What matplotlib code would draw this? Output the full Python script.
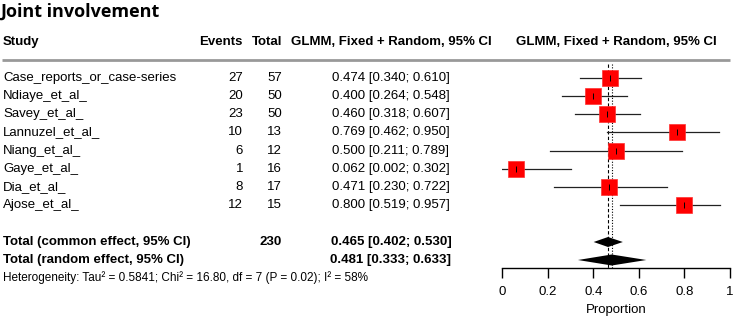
import matplotlib.pyplot as plt

plt.rcParams['font.family'] = ['Liberation Sans', 'DejaVu Sans']

# study data
studies = ["Case_reports_or_case-series", "Ndiaye_et_al_", "Savey_et_al_", "Lannuzel_et_al_",
           "Niang_et_al_", "Gaye_et_al_", "Dia_et_al_", "Ajose_et_al_"]
events = [27, 20, 23, 10, 6, 1, 8, 12]
totals = [57, 50, 50, 13, 12, 16, 17, 15]
prop = [0.474, 0.400, 0.460, 0.769, 0.500, 0.062, 0.471, 0.800]
lower = [0.340, 0.264, 0.318, 0.462, 0.211, 0.002, 0.230, 0.519]
upper = [0.610, 0.548, 0.607, 0.950, 0.789, 0.302, 0.722, 0.957]

# pooled estimates (est, lower, upper)
common = [0.465, 0.402, 0.530]
random_eff = [0.481, 0.333, 0.633]
n_total = 230
het_text = "Heterogeneity: Tau² = 0.5841; Chi² = 16.80, df = 7 (P = 0.02); I² = 58%"

ticks = [0, 0.2, 0.4, 0.6, 0.8, 1]
tick_labels = ["0", "0.2", "0.4", "0.6", "0.8", "1"]

W, H = 750, 323
fig = plt.figure(figsize=(W / 100, H / 100), dpi=100)

# background axes in pixel coords for the table text
bg = fig.add_axes([0, 0, 1, 1])
bg.set_xlim(0, W)
bg.set_ylim(H, 0)
bg.axis('off')

# forest axes, sharing the same vertical pixel scale
x0, x1, ytop, ybot = 502, 730, 62, 268
ax = fig.add_axes([x0 / W, (H - ybot) / H, (x1 - x0) / W, (ybot - ytop) / H])
ax.set_xlim(0, 1)
ax.set_ylim(ybot, ytop)
ax.patch.set_visible(False)
for s in ['top', 'right', 'left']:
    ax.spines[s].set_visible(False)
ax.spines['bottom'].set_linewidth(1.0)
ax.set_yticks([])
ax.set_xticks(ticks, labels=tick_labels)
ax.tick_params(axis='x', length=7, width=1, pad=6, labelsize=9.5)

fs = 9.5
row_y = [78 + 18.15 * i for i in range(len(studies))]
y_common, y_random, y_het = 242, 260, 278
col_events, col_total, col_eff, col_plot = 243, 282, 391, 616

# title and headers
bg.text(0, 12, "Joint involvement", fontsize=13, fontweight='bold', family='Open Sans',
        ha='left', va='center')
bg.text(3, 42, "Study", fontsize=fs, fontweight='bold', va='center')
bg.text(col_events, 42, "Events", fontsize=fs, fontweight='bold', ha='right', va='center')
bg.text(col_total, 42, "Total", fontsize=fs, fontweight='bold', ha='right', va='center')
bg.text(col_eff, 42, "GLMM, Fixed + Random, 95% CI", fontsize=fs, fontweight='bold',
        ha='center', va='center')
bg.text(col_plot, 42, "GLMM, Fixed + Random, 95% CI", fontsize=fs, fontweight='bold',
        ha='center', va='center')
bg.plot([2, 730], [60, 60], color='#999999', lw=2, solid_capstyle='butt')

# study rows
for i, name in enumerate(studies):
    y = row_y[i]
    bg.text(3, y, name, fontsize=fs, va='center')
    bg.text(col_events, y, str(events[i]), fontsize=fs, ha='right', va='center')
    bg.text(col_total, y, str(totals[i]), fontsize=fs, ha='right', va='center')
    bg.text(col_eff, y, f"{prop[i]:.3f} [{lower[i]:.3f}; {upper[i]:.3f}]", fontsize=fs,
            ha='center', va='center')

# pooled rows
bg.text(3, y_common, "Total (common effect, 95% CI)", fontsize=fs, fontweight='bold', va='center')
bg.text(col_total, y_common, str(n_total), fontsize=fs, fontweight='bold', ha='right', va='center')
bg.text(col_eff, y_common, f"{common[0]:.3f} [{common[1]:.3f}; {common[2]:.3f}]", fontsize=fs,
        fontweight='bold', ha='center', va='center')
bg.text(3, y_random, "Total (random effect, 95% CI)", fontsize=fs, fontweight='bold', va='center')
bg.text(col_eff, y_random, f"{random_eff[0]:.3f} [{random_eff[1]:.3f}; {random_eff[2]:.3f}]",
        fontsize=fs, fontweight='bold', ha='center', va='center')
bg.text(3, y_het, het_text, fontsize=8.5, va='center')

bg.text(col_plot, 310, "Proportion", fontsize=9.5, ha='center', va='center')

# reference lines
ax.plot([common[0]] * 2, [ytop + 2, ybot], color='black', lw=0.8, ls=(0, (3, 2)))
ax.plot([random_eff[0]] * 2, [ytop + 2, ybot], color='black', lw=0.8, ls=(0, (1, 1.5)))

# CIs and squares
for i in range(len(studies)):
    y = row_y[i]
    ax.plot([lower[i], upper[i]], [y, y], color='#222222', lw=0.9)
    ax.plot(prop[i], y, marker='s', markersize=11, color='#ff0000', mec='#ff3030', mew=0.5)
    ax.plot(prop[i], y, marker='|', markersize=5, color='black', mew=0.7)

# diamonds
for est, lo, hi, y, h in [(common[0], common[1], common[2], y_common, 5),
                          (random_eff[0], random_eff[1], random_eff[2], y_random, 5.5)]:
    ax.fill([lo, est, hi, est], [y, y - h, y, y + h], color='black', lw=0)

fig.savefig("out.png", dpi=100)
